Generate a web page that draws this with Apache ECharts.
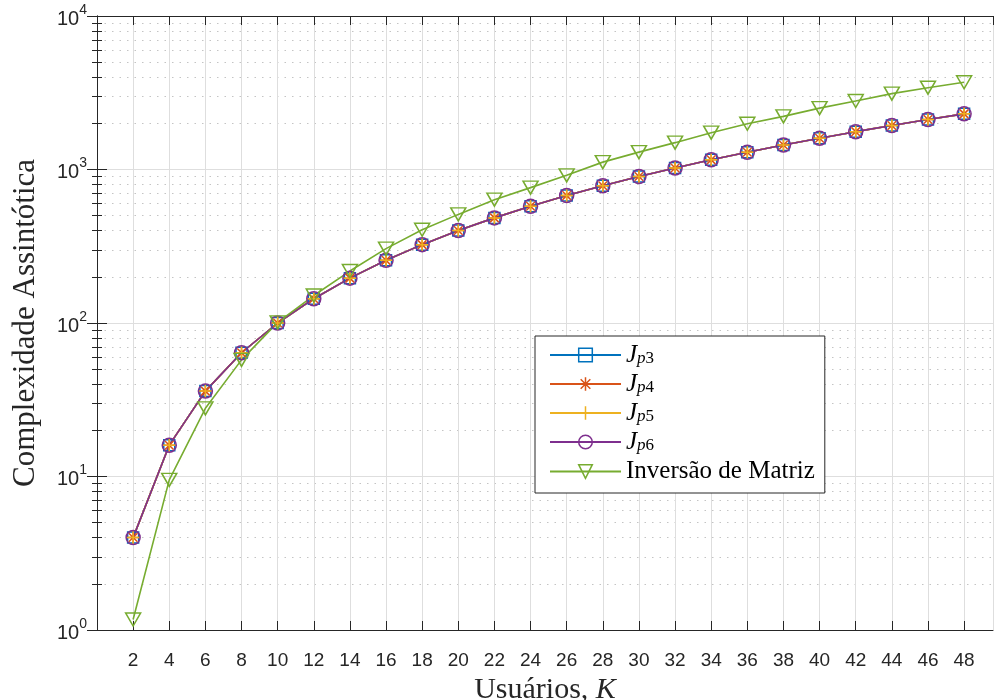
<!DOCTYPE html>
<html>
<head>
<meta charset="utf-8">
<script src="https://cdn.jsdelivr.net/npm/echarts@6/dist/echarts.min.js"></script>
<style>
html,body{margin:0;padding:0;background:#fff;}
#chart{width:995px;height:700px;}
</style>
</head>
<body>
<div id="chart"></div>
<script>
// ---- data ----
var usersK = [2,4,6,8,10,12,14,16,18,20,22,24,26,28,30,32,34,36,38,40,42,44,46,48];
// the four J_p curves lie on top of each other
var jp3Values = [4,16,36,64,100,144,196,256,324,400,484,576,676,784,900,1024,1156,1296,1444,1600,1764,1936,2116,2304];
var jp4Values = [4,16,36,64,100,144,196,256,324,400,484,576,676,784,900,1024,1156,1296,1444,1600,1764,1936,2116,2304];
var jp5Values = [4,16,36,64,100,144,196,256,324,400,484,576,676,784,900,1024,1156,1296,1444,1600,1764,1936,2116,2304];
var jp6Values = [4,16,36,64,100,144,196,256,324,400,484,576,676,784,900,1024,1156,1296,1444,1600,1764,1936,2116,2304];
var inversaoValues = [1.17,9.5,27.8,57.5,101,151,218,305,405,510,636,762,916,1117,1298,1496,1738,1988,2218,2512,2793,3120,3412,3700];
var seriesNames = ['Jp3','Jp4','Jp5','Jp6','Inversão de Matriz'];
var xLabelName = 'Usuários, ';
var yLabelName = 'Complexidade Assintótica';

function pairs(vals){ return usersK.map(function(k,i){ return [k, vals[i]]; }); }

var axisColor = '#262626';
var gridMajor = '#dedede';
var gridMinor = '#c4c4c4';
var tickFont = 'Liberation Sans';
var serifFont = 'Liberation Serif';

var chart = echarts.init(document.getElementById('chart'), null, {renderer:'canvas'});

function lineSeries(name, vals, color, symbol, size, extra){
  var s = {
    name: name, type: 'line', data: pairs(vals),
    symbol: symbol, symbolSize: size, showSymbol: true,
    lineStyle: {color: color, width: 1.6},
    itemStyle: {color: 'rgba(0,0,0,0)', borderColor: color, borderWidth: 1.5},
    emphasis: {disabled: true}, animation: false, xAxisIndex: 0, yAxisIndex: 0
  };
  for (var k in extra) s[k] = extra[k];
  return s;
}

var asterisk = 'path://M0,-1L0,1M-1,0L1,0M-0.71,-0.71L0.71,0.71M-0.71,0.71L0.71,-0.71';
var plus = 'path://M0,-1L0,1M-1,0L1,0';

var yAxisCommon = {
  type: 'log', logBase: 10, min: 1, max: 10000,
  axisLine: {show: true, lineStyle: {color: axisColor, width: 1}},
  axisTick: {show: true, inside: true, length: 10, lineStyle: {color: axisColor}},
  minorTick: {show: true, splitNumber: 9, length: 5, lineStyle: {color: axisColor}}
};

function xTickLabel(v){
  return (v > 0 && v <= 48 && Math.abs(v % 2) < 1e-9) ? String(v) : '';
}

var option = {
  animation: false,
  backgroundColor: '#fff',
  grid: {left: 97, right: 2, top: 16, bottom: 70, containLabel: false, outerBoundsMode: 'none'},
  xAxis: [{
    type: 'value', min: 0, max: 49.6, interval: 2, position: 'bottom',
    name: '{r|' + xLabelName + '}{i|K}', nameLocation: 'middle', nameGap: 37,
    nameTextStyle: {rich: {
      r: {fontFamily: serifFont, fontSize: 30, color: axisColor},
      i: {fontFamily: serifFont, fontSize: 30, fontStyle: 'italic', color: axisColor}
    }},
    axisLine: {show: true, onZero: false, lineStyle: {color: axisColor}},
    axisTick: {show: true, inside: true, length: 9, lineStyle: {color: axisColor}},
    axisLabel: {fontFamily: tickFont, fontSize: 19, color: axisColor, margin: 21,
      showMaxLabel: false, showMinLabel: false, formatter: xTickLabel},
    splitLine: {show: true, lineStyle: {color: gridMajor, width: 1}}
  },{
    type: 'value', min: 0, max: 49.6, interval: 2, position: 'top',
    axisLine: {show: true, onZero: false, lineStyle: {color: axisColor}},
    axisTick: {show: true, inside: true, length: 9, lineStyle: {color: axisColor}},
    axisLabel: {show: false}, splitLine: {show: false}
  }],
  yAxis: [Object.assign({}, yAxisCommon, {
    position: 'left',
    name: yLabelName, nameLocation: 'middle', nameGap: 56,
    nameTextStyle: {fontFamily: serifFont, fontSize: 31, color: axisColor},
    axisLabel: {margin: 10, color: axisColor,
      formatter: function(v){ return '{b|10}{s|' + Math.round(Math.log10(v)) + '}'; },
      rich: {
        b: {fontFamily: tickFont, fontSize: 20, color: axisColor, lineHeight: 26, verticalAlign: 'bottom'},
        s: {fontFamily: tickFont, fontSize: 14, color: axisColor, lineHeight: 14, verticalAlign: 'top'}
      }},
    splitLine: {show: true, lineStyle: {color: gridMajor, width: 1}},
    minorSplitLine: {show: true, lineStyle: {color: gridMinor, width: 1, type: [1.5, 6]}}
  }), Object.assign({}, yAxisCommon, {
    position: 'right',
    axisLabel: {show: false}, splitLine: {show: false}, minorSplitLine: {show: false}
  })],
  legend: {
    show: true, orient: 'vertical', left: 535, top: 336,
    data: seriesNames,
    itemWidth: 71, itemHeight: 17, itemGap: 4,
    padding: [7, 10, 9, 14],
    backgroundColor: '#fff', borderColor: '#262626', borderWidth: 1, borderRadius: 0,
    itemStyle: {borderWidth: 1.5},
    selectedMode: false,
    formatter: function(name){
      if (name.indexOf('Jp') === 0) return '{j|J}{p|p}{d|' + name.slice(2) + '}';
      return name;
    },
    textStyle: {fontFamily: serifFont, fontSize: 25, color: '#000', lineHeight: 24,
      rich: {
        j: {fontFamily: serifFont, fontSize: 25, fontStyle: 'italic', color: '#000', lineHeight: 24, verticalAlign: 'top'},
        p: {fontFamily: serifFont, fontSize: 17, fontStyle: 'italic', color: '#000', lineHeight: 12, verticalAlign: 'bottom'},
        d: {fontFamily: serifFont, fontSize: 17, color: '#000', lineHeight: 12, verticalAlign: 'bottom'}
      }}
  },
  series: [
    lineSeries(seriesNames[0], jp3Values, '#0072BD', 'rect', 11),
    lineSeries(seriesNames[1], jp4Values, '#D95319', asterisk, 12),
    lineSeries(seriesNames[2], jp5Values, '#EDB120', plus, 13),
    lineSeries(seriesNames[3], jp6Values, '#7E2F8E', 'circle', 14),
    lineSeries(seriesNames[4], inversaoValues, '#77AC30', 'triangle', [15, 13], {symbolRotate: 180})
  ]
};
chart.setOption(option);
</script>
</body>
</html>
